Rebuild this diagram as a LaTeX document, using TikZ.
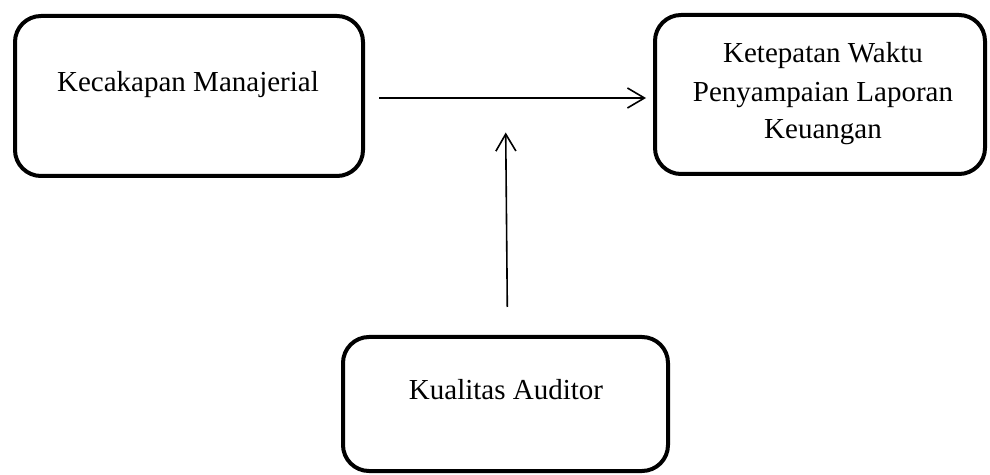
\documentclass[tikz,border=0pt]{standalone}
\usepackage{fontspec}
\setmainfont{Liberation Serif}
\usetikzlibrary{arrows.meta}
\begin{document}
\begin{tikzpicture}[x=0.5pt,y=-0.5pt,
  box/.style={draw,line width=2pt,rounded corners=13pt,inner sep=0pt},
  lbl/.style={font=\fontsize{14.5}{19}\selectfont,align=center,inner sep=0pt,anchor=base},
  conn/.style={line width=0.8pt,-{Straight Barb[length=8.5pt,width=10pt,line width=0.8pt]}}]
\useasboundingbox (0,0) rectangle (990,475);
\node[box,minimum width=174pt,minimum height=80pt] (b1) at (189,96) {};
\node[box,minimum width=165pt,minimum height=79.5pt] (b2) at (820,94.5) {};
\node[box,minimum width=162.5pt,minimum height=67pt] (b3) at (505.5,404) {};
\node[lbl] (t1) at (188,92) {Kecakapan Manajerial};
\node[lbl] (t2a) at (823,63) {Ketepatan Waktu};
\node[lbl] (t2b) at (823,101.5) {Penyampaian Laporan};
\node[lbl] (t2c) at (823,139) {Keuangan};
\node[lbl] (t3) at (506,400) {Kualitas Auditor};
\coordinate (h1) at (379,98);
\coordinate (h2) at (646,98);
\coordinate (v1) at (507.3,307);
\coordinate (v2) at (505.7,132.5);
\draw[conn] (h1) -- (h2);
\draw[conn] (v1) -- (v2);
\end{tikzpicture}
\end{document}
